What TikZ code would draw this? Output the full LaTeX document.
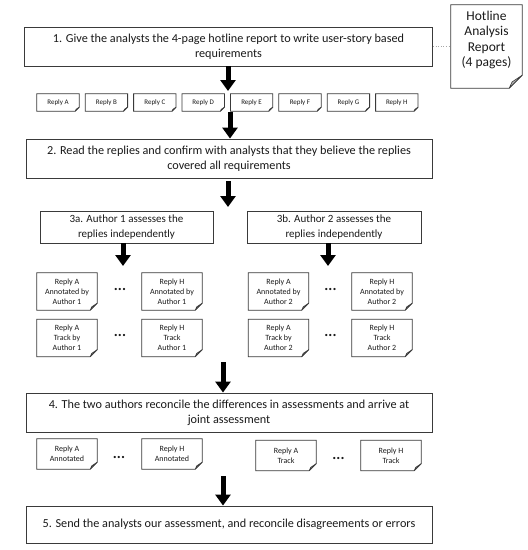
\documentclass[tikz,border=0pt]{standalone}
\usepackage{fontspec}
\setmainfont{Carlito}
\usetikzlibrary{arrows.meta}
\definecolor{linec}{HTML}{3A3A3A}
\definecolor{txtc}{HTML}{1A1A1A}
\definecolor{foldc}{HTML}{B4B4B4}
\tikzset{
  bigbox/.style={draw=linec, line width=0.9pt, rectangle, align=center, inner sep=0pt,
    text=txtc, font=\fontsize{12.2}{15}\selectfont},
  midbox/.style={bigbox, font=\fontsize{11}{15}\selectfont},
  docnode/.style={rectangle, align=center, inner sep=0pt, text=txtc},
  outline/.style={draw=linec, line width=0.8pt, line join=miter},
  foldfill/.style={fill=foldc, draw=linec, line width=0.6pt, line join=round},
  bigarrow/.style={line width=5pt, black, -{Triangle[width=15pt,length=11pt]}},
  dotlink/.style={draw=gray!70, line width=0.6pt, dotted},
  dotsnode/.style={text=txtc, font=\fontsize{15}{15}\bfseries\selectfont, anchor=base, inner sep=0pt},
}
% #1 name, #2 cx, #3 cy, #4 w, #5 h, #6 fold, #7 font, #8 text
\newcommand\docshape[8]{%
  \node[docnode, font=#7, minimum width=#4, minimum height=#5] (#1) at (#2,#3) {#8};
  \draw[outline] (#1.north west) -- (#1.north east) -- ([yshift=#6]#1.south east)
     -- ([xshift=-#6]#1.south east) -- (#1.south west) -- cycle;
  \draw[foldfill] ([yshift=#6]#1.south east) -- ([xshift=-#6]#1.south east)
     -- ([xshift=-0.78*#6, yshift=0.48*#6]#1.south east) -- cycle;
}
\begin{document}
\begin{tikzpicture}[x=1pt, y=-1pt]
\useasboundingbox (0,0) rectangle (528,550);
\fill[white] (0,0) rectangle (528,550);

% step boxes
\node[bigbox, minimum width=408pt, minimum height=39pt] (b1) at (228.5,46.5)
  {1. Give the analysts the 4-page hotline report to write user-story based\\requirements};
\node[bigbox, minimum width=406pt, minimum height=39pt] (b2) at (229,158.5)
  {2. Read the replies and confirm with analysts that they believe the replies\\covered all requirements};
\node[midbox, minimum width=173pt, minimum height=32pt] (b3a) at (126.5,227)
  {3a. Author 1 assesses the\\replies independently};
\node[midbox, minimum width=174pt, minimum height=32pt] (b3b) at (334,227)
  {3b. Author 2 assesses the\\replies independently};
\node[bigbox, minimum width=406pt, minimum height=39pt] (b4) at (229,412.5)
  {4. The two authors reconcile the differences in assessments and arrive at\\joint assessment};
\node[bigbox, minimum width=406pt, minimum height=37pt] (b5) at (229,524.5)
  {5. Send the analysts our assessment, and reconcile disagreements or errors};

% hotline report
\docshape{report}{486.5}{46.5}{71pt}{83pt}{13pt}{\fontsize{13.5}{15.5}\selectfont}{Hotline\\Analysis\\Report\\(4 pages)\\\mbox{}}
\draw[dotlink] (b1.east) -- (report.west);

% reply row
\def\rf{\fontsize{7}{8}\selectfont}
\docshape{rA}{58}{102.5}{42pt}{17pt}{4pt}{\rf}{Reply A}
\docshape{rB}{106.4}{102.5}{42pt}{17pt}{4pt}{\rf}{Reply B}
\docshape{rC}{154.8}{102.5}{42pt}{17pt}{4pt}{\rf}{Reply C}
\docshape{rD}{203.2}{102.5}{42pt}{17pt}{4pt}{\rf}{Reply D}
\docshape{rE}{251.6}{102.5}{42pt}{17pt}{4pt}{\rf}{Reply E}
\docshape{rF}{300}{102.5}{42pt}{17pt}{4pt}{\rf}{Reply F}
\docshape{rG}{348.4}{102.5}{42pt}{17pt}{4pt}{\rf}{Reply G}
\docshape{rH}{396.8}{102.5}{42pt}{17pt}{4pt}{\rf}{Reply H}

% author docs
\def\df{\fontsize{8}{10}\selectfont}
\docshape{aA1}{67}{291.5}{60pt}{37pt}{7pt}{\df}{Reply A\\Annotated by\\Author 1}
\docshape{aH1}{172}{291.5}{60pt}{37pt}{7pt}{\df}{Reply H\\Annotated by\\Author 1}
\docshape{aA2}{278.5}{291.5}{60pt}{37pt}{7pt}{\df}{Reply A\\Annotated by\\Author 2}
\docshape{aH2}{382}{291.5}{60pt}{37pt}{7pt}{\df}{Reply H\\Annotated by\\Author 2}
\docshape{tA1}{67}{338}{60pt}{37pt}{7pt}{\df}{Reply A\\Track by\\Author 1}
\docshape{tH1}{172}{338}{60pt}{37pt}{7pt}{\df}{Reply H\\Track\\Author 1}
\docshape{tA2}{278.5}{338}{60pt}{37pt}{7pt}{\df}{Reply A\\Track by\\Author 2}
\docshape{tH2}{382}{338}{60pt}{37pt}{7pt}{\df}{Reply H\\Track\\Author 2}

% joint docs
\docshape{jA}{67}{454}{60pt}{30pt}{7pt}{\df}{Reply A\\Annotated}
\docshape{jH}{172}{454}{60pt}{30pt}{7pt}{\df}{Reply H\\Annotated}
\docshape{kA}{286}{455.5}{60pt}{30pt}{7pt}{\df}{Reply A\\Track}
\docshape{kH}{391}{455.5}{60pt}{30pt}{7pt}{\df}{Reply H\\Track}

% ellipses
\node[dotsnode] (e1) at (120,290.5) {...};
\node[dotsnode] (e2) at (120,336.5) {...};
\node[dotsnode] (e3) at (330.5,290.5) {...};
\node[dotsnode] (e4) at (330.5,336.5) {...};
\node[dotsnode] (e5) at (119,458.5) {...};
\node[dotsnode] (e6) at (338.5,459.5) {...};

% arrows
\coordinate (t1) at (228,91);
\draw[bigarrow] (b1.south -| t1) -- (t1);
\coordinate (s2) at (230,112);
\draw[bigarrow] (s2) -- (s2 |- b2.north);
\coordinate (s3) at (228,181);
\coordinate (t3) at (228,207);
\draw[bigarrow] (s3) -- (t3);
\coordinate (t3a) at (123,266);
\draw[bigarrow] (b3a.south -| t3a) -- (t3a);
\coordinate (t3b) at (328,266);
\draw[bigarrow] (b3b.south -| t3b) -- (t3b);
\coordinate (s4) at (223,362);
\draw[bigarrow] (s4) -- (s4 |- b4.north);
\coordinate (s5) at (223,476);
\draw[bigarrow] (s5) -- (s5 |- b5.north);
\end{tikzpicture}
\end{document}
